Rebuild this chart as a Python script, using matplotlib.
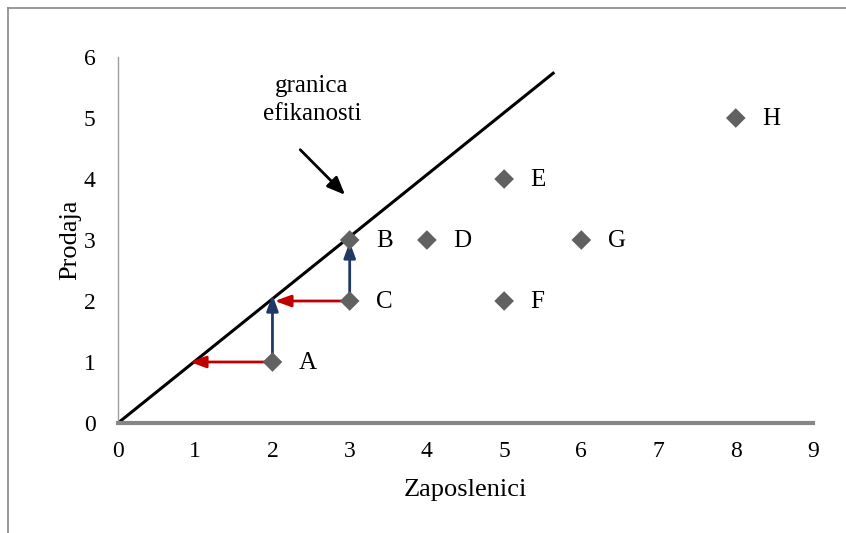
import numpy as np
import matplotlib
matplotlib.use("Agg")
import matplotlib.pyplot as plt

plt.rcParams['font.family'] = ['Liberation Serif', 'DejaVu Serif']

# tocke (zaposlenici, prodaja)
labels = ['A', 'B', 'C', 'D', 'E', 'F', 'G', 'H']
zaposlenici = [2, 3, 3, 4, 5, 5, 6, 8]
prodaja = [1, 3, 2, 3, 4, 2, 3, 5]

# granica efikasnosti
granica_x = [0, 5.65]
granica_y = [0, 5.75]

# strelice: (od_x, od_y, do_x, do_y)
crvene = [(2, 1, 0.93, 1), (3, 2, 2.03, 2)]
plave = [(2, 1, 2, 2.1), (3, 2, 3, 2.97)]
strelica_oznake = (2.36, 4.48, 2.94, 3.74)

fig = plt.figure(figsize=(8.46, 5.33), dpi=100)
ax = fig.add_axes([0.1395, 0.2064, 0.8215, 0.6866])

# okvir grafikona
fig.add_artist(plt.Line2D([0.009, 0.009], [0, 0.985], color='#888888', lw=1.2))
fig.add_artist(plt.Line2D([0.009, 1], [0.985, 0.985], color='#888888', lw=1.2))

ax.plot(granica_x, granica_y, color='black', lw=2.2, solid_capstyle='butt', zorder=2)

for x0, y0, x1, y1 in crvene:
    ax.annotate('', xy=(x1, y1), xytext=(x0, y0),
                arrowprops=dict(arrowstyle='-|>,head_length=0.6,head_width=0.22',
                                color='#c00000', lw=2,
                                mutation_scale=16, shrinkA=0, shrinkB=0), zorder=3)
for x0, y0, x1, y1 in plave:
    ax.annotate('', xy=(x1, y1), xytext=(x0, y0),
                arrowprops=dict(arrowstyle='-|>,head_length=0.6,head_width=0.22',
                                color='#1f3864', lw=2,
                                mutation_scale=16, shrinkA=0, shrinkB=0), zorder=3)

ax.scatter(zaposlenici, prodaja, marker='D', s=100, color='#616161', zorder=4,
           edgecolors='none')
for lab, x, y in zip(labels, zaposlenici, prodaja):
    ax.annotate(lab, (x, y), xytext=(19, -1), textcoords='offset points',
                fontsize=18, va='center', ha='left')

ax.text(2.51, 5.3, 'granica\nefikanosti', fontsize=18, ha='center', va='center',
        linespacing=1.35)
x0, y0, x1, y1 = strelica_oznake
ax.annotate('', xy=(x1, y1), xytext=(x0, y0),
            arrowprops=dict(arrowstyle='-|>,head_length=0.6,head_width=0.25',
                            color='black', lw=2,
                            mutation_scale=18, shrinkA=0, shrinkB=0))

ax.set_xlim(0, 9)
ax.set_ylim(0, 6)
ax.set_xticks(range(0, 10))
ax.set_yticks(range(0, 7))
ax.tick_params(length=0, labelsize=17)
ax.tick_params(axis='x', pad=13)
ax.tick_params(axis='y', pad=16)
for s in ['top', 'right']:
    ax.spines[s].set_visible(False)
ax.spines['left'].set_color('#a0a0a0')
ax.spines['left'].set_linewidth(1)
ax.spines['bottom'].set_color('#868686')
ax.spines['bottom'].set_linewidth(3)
ax.set_xlabel('Zaposlenici', fontsize=19, labelpad=12)
ax.set_ylabel('Prodaja', fontsize=19, labelpad=2)

fig.savefig('out.png', dpi=100)
